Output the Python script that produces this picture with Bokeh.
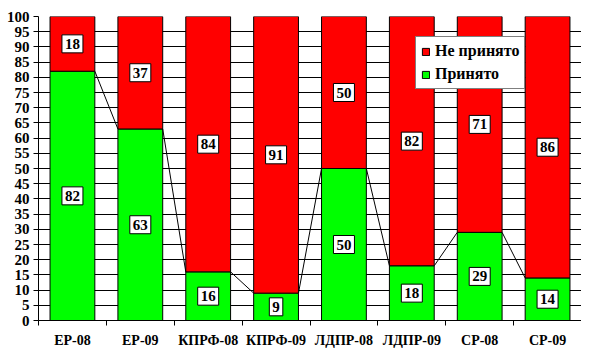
from bokeh.plotting import figure
from bokeh.models import Range1d, FixedTicker, Legend, LegendItem
from bokeh.core.properties import value
from bokeh.embed import file_html
from bokeh.resources import INLINE

categories = ["ЕР-08", "ЕР-09", "КПРФ-08", "КПРФ-09", "ЛДПР-08", "ЛДПР-09", "СР-08", "СР-09"]
accepted = [82, 63, 16, 9, 50, 18, 29, 14]      # Принято
rejected = [18, 37, 84, 91, 50, 82, 71, 86]     # Не принято
y_ticks = list(range(0, 101, 5))

FONT = "Liberation Serif"
BAR_W = 0.66
GREEN = "#00FF00"
RED = "#FF0000"

xs = [i + 0.5 for i in range(len(categories))]
totals = [a + r for a, r in zip(accepted, rejected)]

p = figure(width=581, height=350, output_backend="svg", toolbar_location=None,
           x_range=Range1d(0, len(categories)), y_range=Range1d(0, 100),
           min_border_left=38, min_border_right=0, min_border_top=16, min_border_bottom=28)
p.outline_line_color = None
p.background_fill_color = "white"
p.border_fill_color = "white"

g = p.vbar(x=xs, bottom=0, top=accepted, width=BAR_W, fill_color=GREEN,
           line_color="black", line_width=1)
r = p.vbar(x=xs, bottom=accepted, top=totals, width=BAR_W, fill_color=RED,
           line_color="black", line_width=1)

# series lines connecting the tops of the green bars
x0 = [x + BAR_W / 2 for x in xs[:-1]]
x1 = [x - BAR_W / 2 for x in xs[1:]]
p.segment(x0=x0, y0=accepted[:-1], x1=x1, y1=accepted[1:], line_color="black", line_width=1)

label_kw = dict(text_font=value(FONT), text_font_style="bold", text_font_size="15px",
                text_align="center", text_baseline="middle", text_color="black",
                background_fill_color="white", border_line_color="black",
                border_line_width=1, padding=dict(left=3, right=3, top=4, bottom=4))
p.text(x=xs, y=[a / 2 for a in accepted], text=[str(a) for a in accepted], **label_kw)
p.text(x=xs, y=[a + rj / 2 for a, rj in zip(accepted, rejected)],
       text=[str(v) for v in rejected], **label_kw)

# axes
p.xaxis.ticker = FixedTicker(ticks=xs, minor_ticks=list(range(len(categories) + 1)))
p.xaxis.major_label_overrides = {x: c for x, c in zip(xs, categories)}
p.xaxis.major_tick_line_color = None
p.xaxis.major_tick_out = 5
p.xaxis.minor_tick_out = 5
p.xaxis.minor_tick_in = 0
p.xaxis.minor_tick_line_color = "black"
p.xaxis.major_label_standoff = 7

p.yaxis.ticker = FixedTicker(ticks=y_ticks)
p.yaxis.major_tick_out = 5
p.yaxis.major_tick_in = 0
p.yaxis.minor_tick_line_color = None
p.yaxis.major_label_standoff = 4

for ax in (p.xaxis, p.yaxis):
    ax.axis_line_color = "black"
    ax.axis_line_width = 1
    ax.major_label_text_font = FONT
    ax.major_label_text_font_style = "bold"
    ax.major_label_text_color = "black"
p.xaxis.major_label_text_font_size = "14px"
p.yaxis.major_label_text_font_size = "15px"
p.yaxis.major_tick_line_color = "black"

p.xgrid.visible = False
p.ygrid.ticker = FixedTicker(ticks=y_ticks)
p.ygrid.grid_line_color = "black"
p.ygrid.grid_line_width = 1

legend = Legend(items=[LegendItem(label="Не принято", renderers=[r]),
                       LegendItem(label="Принято", renderers=[g])],
                location=(377, 231), orientation="vertical")
legend.border_line_color = "black"
legend.border_line_width = 1
legend.background_fill_color = "white"
legend.background_fill_alpha = 1
legend.padding = 5
legend.spacing = 5
legend.margin = 0
legend.glyph_width = 9
legend.glyph_height = 9
legend.label_height = 9
legend.label_standoff = 5
legend.label_text_font = FONT
legend.label_text_font_style = "bold"
legend.label_text_font_size = "16px"
legend.label_text_color = "black"
p.add_layout(legend)

open("out.html", "w").write(file_html(p, INLINE))
